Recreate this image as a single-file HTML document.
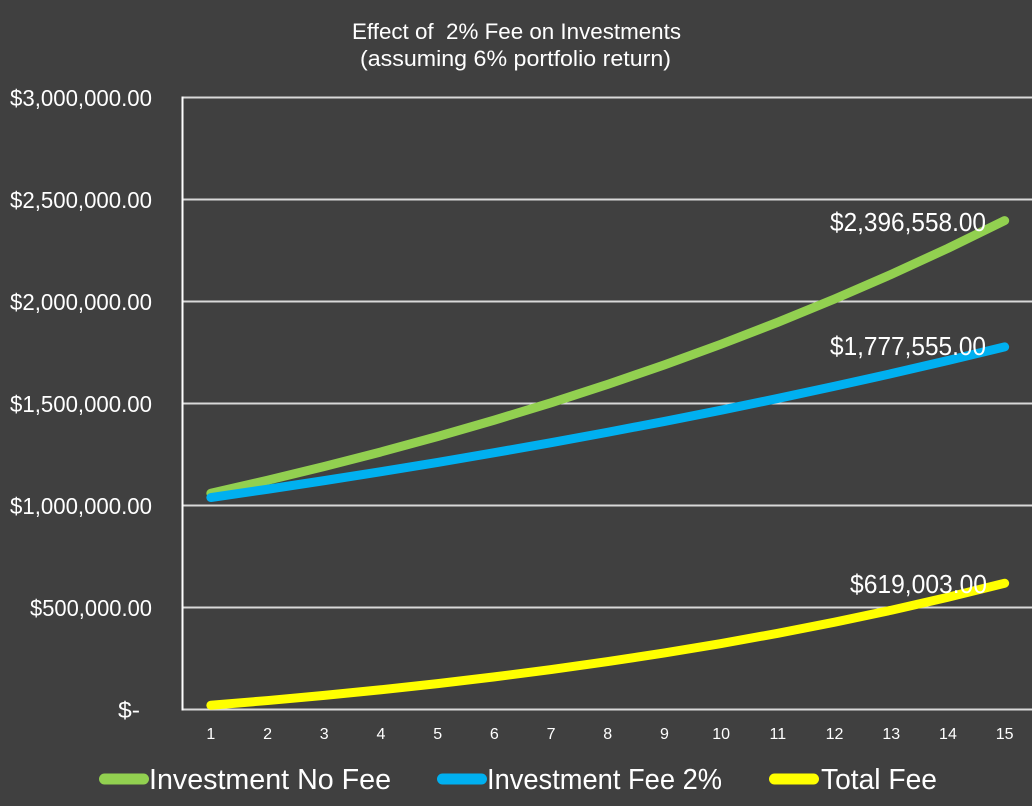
<!DOCTYPE html>
<html>
<head>
<meta charset="utf-8">
<style>
html,body{margin:0;padding:0;background:#404040;}
body{width:1032px;height:806px;overflow:hidden;}
svg{display:block;}
text{font-family:"Liberation Sans",Arial,sans-serif;fill:#ffffff;}
</style>
</head>
<body>
<svg width="1032" height="806" viewBox="0 0 1032 806" xmlns="http://www.w3.org/2000/svg">
<rect x="0" y="0" width="1032" height="806" fill="#404040"/>

<!-- Title -->
<text x="352" y="39" font-size="22" textLength="329" lengthAdjust="spacingAndGlyphs" xml:space="preserve">Effect of  2% Fee on Investments</text>
<text x="360" y="66" font-size="22" textLength="311" lengthAdjust="spacingAndGlyphs">(assuming 6% portfolio return)</text>

<!-- Gridlines -->
<g stroke="#d9d9d9" stroke-width="2">
<line x1="182" y1="97.5" x2="1032" y2="97.5"/>
<line x1="182" y1="199.5" x2="1032" y2="199.5"/>
<line x1="182" y1="301.5" x2="1032" y2="301.5"/>
<line x1="182" y1="403.5" x2="1032" y2="403.5"/>
<line x1="182" y1="505.5" x2="1032" y2="505.5"/>
<line x1="182" y1="607.5" x2="1032" y2="607.5"/>
<line x1="182" y1="709.5" x2="1032" y2="709.5"/>
</g>
<line x1="182.5" y1="96.5" x2="182.5" y2="710.5" stroke="#ffffff" stroke-width="2"/>

<!-- Y labels -->
<g font-size="23">
<text x="10" y="106" textLength="142" lengthAdjust="spacingAndGlyphs">$3,000,000.00</text>
<text x="10" y="208" textLength="142" lengthAdjust="spacingAndGlyphs">$2,500,000.00</text>
<text x="10" y="310" textLength="142" lengthAdjust="spacingAndGlyphs">$2,000,000.00</text>
<text x="10" y="412" textLength="142" lengthAdjust="spacingAndGlyphs">$1,500,000.00</text>
<text x="10" y="514" textLength="142" lengthAdjust="spacingAndGlyphs">$1,000,000.00</text>
<text x="30" y="616" textLength="122" lengthAdjust="spacingAndGlyphs">$500,000.00</text>
<text x="118" y="718" textLength="22" lengthAdjust="spacingAndGlyphs">$-</text>
</g>

<!-- X labels -->
<g font-size="16" text-anchor="middle">
<text x="210.85" y="739">1</text>
<text x="267.55" y="739">2</text>
<text x="324.25" y="739">3</text>
<text x="380.95" y="739">4</text>
<text x="437.65" y="739">5</text>
<text x="494.35" y="739">6</text>
<text x="551.05" y="739">7</text>
<text x="607.75" y="739">8</text>
<text x="664.45" y="739">9</text>
<text x="721.15" y="739">10</text>
<text x="777.85" y="739">11</text>
<text x="834.55" y="739">12</text>
<text x="891.25" y="739">13</text>
<text x="947.95" y="739">14</text>
<text x="1004.65" y="739">15</text>
</g>

<!-- Series -->
<g fill="none" stroke-width="9" stroke-linecap="round" stroke-linejoin="round">
<polyline stroke="#92d050" points="210.85,493.26 267.55,480.29 324.25,466.53 380.95,451.95 437.65,436.5 494.35,420.12 551.05,402.76 607.75,384.36 664.45,364.85 721.15,344.17 777.85,322.25 834.55,299.01 891.25,274.38 947.95,248.28 1004.65,220.6"/>
<polyline stroke="#00b0f0" points="210.85,497.53 267.55,489.24 324.25,480.63 380.95,471.68 437.65,462.38 494.35,452.72 551.05,442.68 607.75,432.25 664.45,421.41 721.15,410.15 777.85,398.45 834.55,386.28 891.25,373.65 947.95,360.52 1004.65,346.88"/>
<polyline stroke="#ffff00" points="210.85,705.24 267.55,700.55 324.25,695.41 380.95,689.78 437.65,683.62 494.35,676.9 551.05,669.58 607.75,661.6 664.45,652.93 721.15,643.52 777.85,633.3 834.55,622.22 891.25,610.23 947.95,597.26 1004.65,583.22"/>
</g>

<!-- Data labels -->
<g font-size="26">
<text x="830" y="231" textLength="156" lengthAdjust="spacingAndGlyphs">$2,396,558.00</text>
<text x="830" y="355" textLength="156" lengthAdjust="spacingAndGlyphs">$1,777,555.00</text>
<text x="850" y="593" textLength="137" lengthAdjust="spacingAndGlyphs">$619,003.00</text>
</g>

<!-- Legend -->
<g stroke-width="11" stroke-linecap="round">
<line x1="104.5" y1="779" x2="143.5" y2="779" stroke="#92d050"/>
<line x1="442.5" y1="779" x2="481.5" y2="779" stroke="#00b0f0"/>
<line x1="774.5" y1="779" x2="813.5" y2="779" stroke="#ffff00"/>
</g>
<g font-size="29">
<text x="149" y="789" textLength="242" lengthAdjust="spacingAndGlyphs">Investment No Fee</text>
<text x="487" y="789" textLength="235" lengthAdjust="spacingAndGlyphs">Investment Fee 2%</text>
<text x="821" y="789" textLength="116" lengthAdjust="spacingAndGlyphs">Total Fee</text>
</g>
</svg>
</body>
</html>
